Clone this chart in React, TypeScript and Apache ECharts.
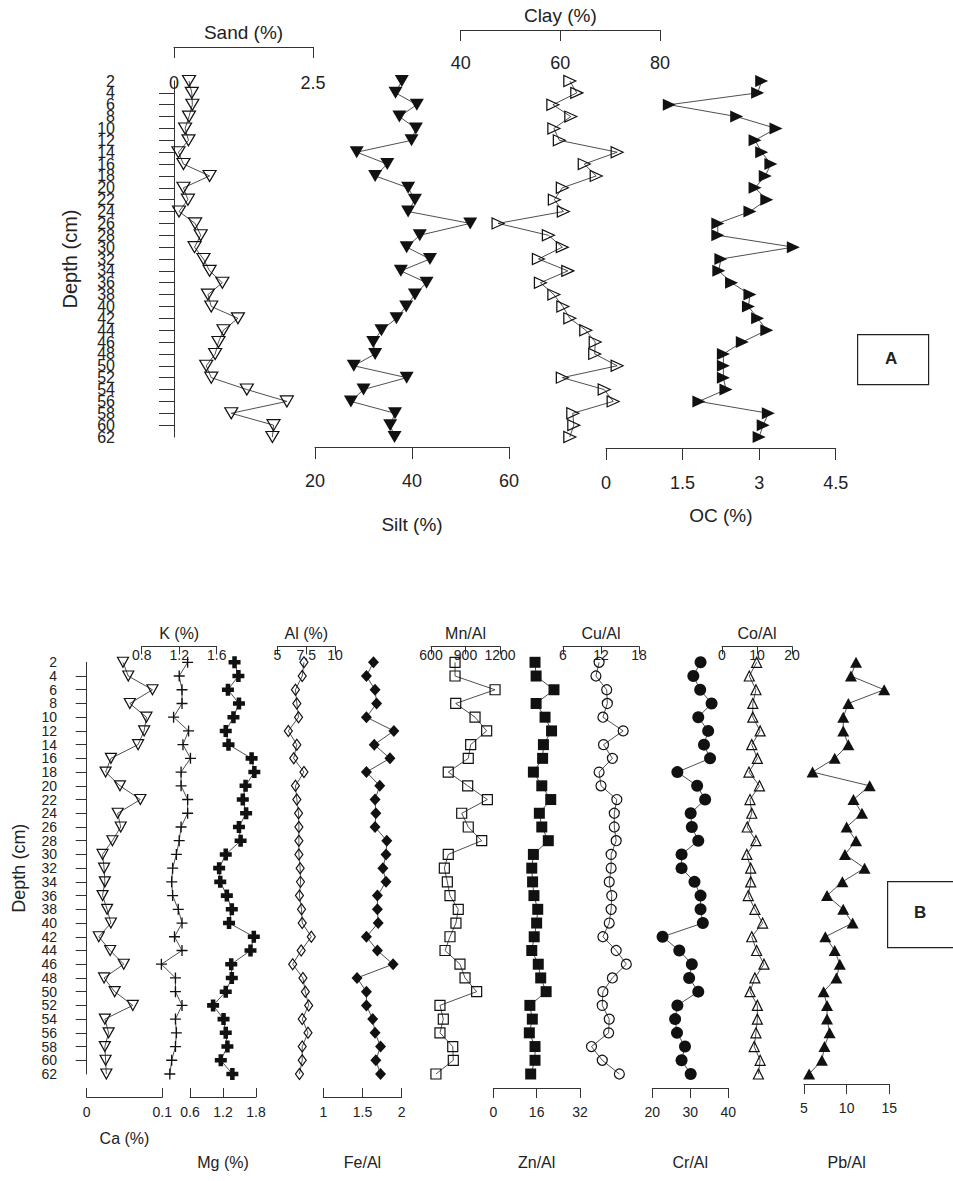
import React, { useEffect, useRef } from "react";
import * as echarts from "echarts";

// Depth (cm) of each sample
const depths = [2, 4, 6, 8, 10, 12, 14, 16, 18, 20, 22, 24, 26, 28, 30, 32, 34, 36, 38, 40, 42, 44, 46, 48, 50, 52, 54, 56, 58, 60, 62];

// Panel A
const sand = [0.27, 0.32, 0.33, 0.27, 0.2, 0.26, 0.08, 0.17, 0.64, 0.17, 0.25, 0.09, 0.38, 0.48, 0.37, 0.53, 0.64, 0.87, 0.61, 0.67, 1.15, 0.89, 0.8, 0.74, 0.58, 0.67, 1.31, 2.03, 1.03, 1.79, 1.77];
const silt = [37.9, 36.6, 41.0, 37.4, 40.8, 39.9, 28.6, 34.9, 32.4, 39.2, 40.6, 39.2, 52.0, 41.6, 38.9, 43.7, 37.7, 43.0, 40.6, 38.8, 36.8, 33.7, 32.0, 32.4, 28.0, 38.9, 30.0, 27.4, 36.5, 35.5, 36.4];
const clay = [61.9, 63.3, 58.5, 62.1, 58.7, 59.8, 71.4, 64.8, 67.2, 60.4, 58.8, 60.6, 47.5, 57.6, 60.4, 55.6, 61.5, 56.0, 58.7, 60.5, 61.9, 65.1, 67.0, 66.9, 71.4, 60.4, 68.8, 70.6, 62.5, 62.7, 61.9];
const oc = [3.05, 2.97, 1.24, 2.56, 3.33, 2.92, 3.05, 3.23, 3.12, 2.92, 3.15, 2.82, 2.19, 2.19, 3.67, 2.25, 2.21, 2.46, 2.82, 2.79, 2.97, 3.15, 2.67, 2.3, 2.3, 2.3, 2.35, 1.82, 3.18, 3.08, 3.0];

// Panel B
const ca = [0.048, 0.055, 0.087, 0.057, 0.079, 0.076, 0.068, 0.032, 0.025, 0.044, 0.071, 0.041, 0.045, 0.034, 0.021, 0.023, 0.024, 0.021, 0.027, 0.032, 0.016, 0.031, 0.049, 0.023, 0.037, 0.061, 0.024, 0.029, 0.024, 0.025, 0.026];
const k = [1.29, 1.2, 1.23, 1.23, 1.14, 1.3, 1.24, 1.32, 1.22, 1.22, 1.29, 1.29, 1.22, 1.2, 1.17, 1.13, 1.12, 1.13, 1.19, 1.23, 1.15, 1.23, 1.01, 1.16, 1.16, 1.23, 1.16, 1.17, 1.16, 1.12, 1.1];
const mg = [1.41, 1.48, 1.29, 1.49, 1.39, 1.25, 1.3, 1.72, 1.77, 1.61, 1.56, 1.62, 1.49, 1.52, 1.25, 1.13, 1.15, 1.27, 1.36, 1.31, 1.76, 1.7, 1.35, 1.36, 1.25, 1.02, 1.21, 1.25, 1.28, 1.16, 1.37];
const al = [7.3, 7.15, 6.56, 6.68, 6.83, 5.94, 6.68, 6.41, 7.3, 6.56, 6.68, 6.83, 6.86, 6.86, 6.86, 6.97, 7.0, 6.91, 7.09, 7.15, 7.94, 7.06, 6.32, 7.21, 7.42, 7.71, 7.15, 7.65, 7.15, 7.15, 6.91];
const fe = [1.64, 1.55, 1.66, 1.68, 1.55, 1.9, 1.65, 1.85, 1.55, 1.72, 1.66, 1.67, 1.66, 1.81, 1.8, 1.76, 1.8, 1.69, 1.69, 1.7, 1.55, 1.69, 1.89, 1.43, 1.55, 1.55, 1.63, 1.66, 1.73, 1.67, 1.73];
const mn = [809, 809, 1157, 815, 983, 1084, 945, 924, 750, 919, 1090, 867, 924, 1041, 750, 716, 742, 765, 837, 817, 765, 722, 852, 896, 997, 678, 707, 678, 789, 794, 643];
const zn = [15.4, 15.8, 22.4, 15.8, 19.1, 21.5, 18.5, 18.2, 14.8, 17.9, 21.2, 17.0, 17.9, 20.3, 14.8, 14.2, 14.5, 15.0, 16.4, 16.0, 15.1, 14.2, 16.6, 17.5, 19.5, 13.5, 14.4, 13.3, 15.4, 15.4, 13.8];
const cu = [11.7, 11.2, 12.9, 13.0, 12.3, 15.5, 12.4, 13.8, 11.7, 12.0, 14.5, 14.1, 14.1, 14.4, 13.6, 13.6, 13.3, 13.7, 13.6, 13.3, 12.3, 14.4, 16.0, 13.8, 12.3, 12.2, 13.3, 13.2, 10.5, 12.2, 14.9];
const cr = [32.7, 30.8, 32.6, 35.6, 32.1, 34.7, 33.6, 35.2, 26.6, 31.8, 33.9, 30.1, 30.4, 32.1, 27.7, 27.7, 31.1, 32.7, 32.7, 33.3, 22.7, 27.1, 30.4, 29.7, 32.1, 26.6, 26.0, 26.5, 28.6, 27.7, 30.1];
const co = [9.9, 7.8, 9.7, 8.8, 8.8, 10.9, 8.5, 10.1, 7.7, 10.7, 8.0, 8.5, 7.2, 9.7, 7.1, 8.2, 8.2, 7.5, 9.4, 11.6, 8.5, 9.9, 12.0, 9.4, 8.0, 10.1, 10.1, 9.7, 9.2, 10.9, 10.4];
const pb = [11.1, 10.5, 14.4, 10.2, 9.6, 9.6, 10.2, 8.6, 6.0, 12.7, 10.8, 11.8, 10.0, 11.1, 9.8, 12.1, 9.5, 7.7, 9.6, 10.7, 7.5, 8.6, 9.2, 8.8, 7.3, 7.7, 7.7, 8.0, 7.4, 7.1, 5.6];

const FONT = "'Liberation Sans', Arial, Helvetica, sans-serif";
const INK = "#222";
const NONE = "rgba(255,255,255,0)";
const PLUS_THIN = "path://M4.4,0H5.6V10H4.4Z M0,4.4H10V5.6H0Z";
const PLUS_BOLD = "path://M3.1,0H6.9V3.1H10V6.9H6.9V10H3.1V6.9H0V3.1H3.1Z";

const PANELS: any = {
  A: { top: 81, height: 356, tickFont: 18, nameFont: 19, depthFont: 16, depthOffset: 29, depthTick: 15, depthMargin: 30, depthName: 20, depthNameGap: 65 },
  B: { top: 662.3, height: 411.7, tickFont: 14, nameFont: 16, depthFont: 14, depthOffset: 12.7, depthTick: 11, depthMargin: 17, depthName: 18, depthNameGap: 46 },
};

type Spec = {
  data: number[]; panel: "A" | "B"; left: number; width: number; min: number; max: number; interval: number;
  pos: "top" | "bottom"; offset: number; tickInside: boolean; tickLen: number; labelInside: boolean; labelMargin: number;
  name: string; nameGap: number; symbol: string; size: any; rotate?: number; fill: string; depth?: boolean;
};

const TOPB = { offset: 16, tickLen: 8, labelMargin: 2, nameGap: 5 };

const specs: Spec[] = [
  { data: sand, panel: "A", left: 174, width: 139, min: 0, max: 2.5, interval: 2.5, pos: "top", offset: 34, tickInside: true, tickLen: 11, labelInside: true, labelMargin: 27, name: "Sand (%)", nameGap: 5, symbol: "triangle", size: [13, 11], rotate: 180, fill: NONE, depth: true },
  { data: silt, panel: "A", left: 315, width: 194, min: 20, max: 60, interval: 20, pos: "bottom", offset: 10, tickInside: false, tickLen: 12, labelInside: false, labelMargin: 25, name: "Silt (%)", nameGap: 68, symbol: "triangle", size: [14, 12], rotate: 180, fill: "#111" },
  { data: clay, panel: "A", left: 460.7, width: 199.3, min: 40, max: 80, interval: 20, pos: "top", offset: 51, tickInside: true, tickLen: 11, labelInside: true, labelMargin: 24, name: "Clay (%)", nameGap: 5, symbol: "triangle", size: [11, 12], rotate: -90, fill: NONE },
  { data: oc, panel: "A", left: 606, width: 229.7, min: 0, max: 4.5, interval: 1.5, pos: "bottom", offset: 11, tickInside: false, tickLen: 12, labelInside: false, labelMargin: 26, name: "OC (%)", nameGap: 58, symbol: "triangle", size: [12, 13], rotate: -90, fill: "#111" },

  { data: ca, panel: "B", left: 86.7, width: 75.6, min: 0, max: 0.1, interval: 0.1, pos: "bottom", offset: 23, tickInside: true, tickLen: 9, labelInside: false, labelMargin: 8, name: "Ca (%)", nameGap: 33, symbol: "triangle", size: [11, 10], rotate: 180, fill: NONE, depth: true },
  { data: k, panel: "B", left: 141.7, width: 75, min: 0.8, max: 1.6, interval: 0.4, pos: "top", offset: TOPB.offset, tickInside: true, tickLen: TOPB.tickLen, labelInside: true, labelMargin: TOPB.labelMargin, name: "K (%)", nameGap: TOPB.nameGap, symbol: PLUS_THIN, size: 11, fill: "#111" },
  { data: mg, panel: "B", left: 190, width: 66, min: 0.6, max: 1.8, interval: 0.6, pos: "bottom", offset: 23, tickInside: true, tickLen: 9, labelInside: false, labelMargin: 8, name: "Mg (%)", nameGap: 57, symbol: PLUS_BOLD, size: 12, fill: "#111" },
  { data: al, panel: "B", left: 277.5, width: 57.5, min: 5, max: 10, interval: 2.5, pos: "top", offset: TOPB.offset, tickInside: true, tickLen: TOPB.tickLen, labelInside: true, labelMargin: TOPB.labelMargin, name: "Al (%)", nameGap: TOPB.nameGap, symbol: "diamond", size: [8, 11], fill: NONE },
  { data: fe, panel: "B", left: 323.3, width: 78.4, min: 1, max: 2, interval: 0.5, pos: "bottom", offset: 23, tickInside: true, tickLen: 9, labelInside: false, labelMargin: 8, name: "Fe/Al", nameGap: 57, symbol: "diamond", size: [11, 12], fill: "#111" },
  { data: mn, panel: "B", left: 431, width: 69, min: 600, max: 1200, interval: 300, pos: "top", offset: TOPB.offset, tickInside: true, tickLen: TOPB.tickLen, labelInside: true, labelMargin: TOPB.labelMargin, name: "Mn/Al", nameGap: TOPB.nameGap, symbol: "rect", size: 10, fill: NONE },
  { data: zn, panel: "B", left: 493.3, width: 86.7, min: 0, max: 32, interval: 16, pos: "bottom", offset: 14, tickInside: false, tickLen: 10, labelInside: false, labelMargin: 17, name: "Zn/Al", nameGap: 66, symbol: "rect", size: 11, fill: "#111" },
  { data: cu, panel: "B", left: 563, width: 76, min: 6, max: 18, interval: 6, pos: "top", offset: TOPB.offset, tickInside: true, tickLen: TOPB.tickLen, labelInside: true, labelMargin: TOPB.labelMargin, name: "Cu/Al", nameGap: TOPB.nameGap, symbol: "circle", size: 10, fill: NONE },
  { data: cr, panel: "B", left: 652.3, width: 76, min: 20, max: 40, interval: 10, pos: "bottom", offset: 14, tickInside: false, tickLen: 10, labelInside: false, labelMargin: 17, name: "Cr/Al", nameGap: 66, symbol: "circle", size: 12, fill: "#111" },
  { data: co, panel: "B", left: 722, width: 70, min: 0, max: 20, interval: 10, pos: "top", offset: TOPB.offset, tickInside: true, tickLen: TOPB.tickLen, labelInside: true, labelMargin: TOPB.labelMargin, name: "Co/Al", nameGap: TOPB.nameGap, symbol: "triangle", size: [10, 10], fill: NONE },
  { data: pb, panel: "B", left: 804, width: 85.3, min: 5, max: 15, interval: 5, pos: "bottom", offset: 10, tickInside: false, tickLen: 10, labelInside: false, labelMargin: 17, name: "Pb/Al", nameGap: 70, symbol: "triangle", size: [12, 11], fill: "#111" },
];

const plain = (v: number) => String(Math.round(v * 1000) / 1000);

function buildOption() {
  const grid: any[] = [];
  const xAxis: any[] = [];
  const yAxis: any[] = [];
  const extraY: any[] = [];
  const series: any[] = [];
  specs.forEach((s, i) => {
    const P = PANELS[s.panel];
    grid.push({ left: s.left, width: s.width, top: P.top, height: P.height, containLabel: false });
    xAxis.push({
      gridIndex: i, type: "value", min: s.min, max: s.max, interval: s.interval, position: s.pos, offset: s.offset,
      axisLine: { show: true, onZero: false, lineStyle: { color: "#333", width: 1 } },
      axisTick: { show: true, inside: s.tickInside, length: s.tickLen, lineStyle: { color: "#333", width: 1 } },
      axisLabel: { show: true, inside: s.labelInside, margin: s.labelMargin, color: INK, fontSize: P.tickFont, fontFamily: FONT, showMinLabel: true, showMaxLabel: true, formatter: plain },
      splitLine: { show: false },
      name: s.name, nameLocation: "middle", nameGap: s.nameGap,
      nameTextStyle: { color: INK, fontSize: P.nameFont, fontFamily: FONT },
    });
    const depthBase = {
      gridIndex: i, type: "value", min: 2, max: 62, interval: 2, inverse: true, position: "left", offset: P.depthOffset,
      splitLine: { show: false },
    };
    // Main depth axis: line, ticks, inner labels (4..60)
    yAxis.push({
      ...depthBase,
      show: !!s.depth,
      axisLine: { show: true, lineStyle: { color: "#333", width: 1 } },
      axisTick: { show: true, length: P.depthTick, lineStyle: { color: "#333", width: 1 } },
      axisLabel: { show: true, margin: P.depthMargin, color: INK, fontSize: P.depthFont, fontFamily: FONT, showMinLabel: false, showMaxLabel: false, hideOverlap: false, formatter: plain },
      name: "Depth (cm)", nameLocation: "middle", nameGap: P.depthNameGap,
      nameTextStyle: { color: INK, fontSize: P.depthName, fontFamily: FONT },
    });
    if (s.depth) {
      // End labels (2 and 62), which the main axis would drop as overlapping
      extraY.push({
        ...depthBase,
        show: true,
        axisLine: { show: false },
        axisTick: { show: false },
        axisLabel: {
          show: true, margin: P.depthMargin, color: INK, fontSize: P.depthFont, fontFamily: FONT, showMinLabel: true, showMaxLabel: true, hideOverlap: false,
          formatter: (v: number) => (v === 2 || v === 62 ? String(v) : ""),
        },
      });
    }
    series.push({
      type: "line", xAxisIndex: i, yAxisIndex: i, name: s.name,
      data: s.data.map((v, j) => [v, depths[j]]),
      symbol: s.symbol, symbolSize: s.size, symbolRotate: s.rotate || 0, showSymbol: true, showAllSymbol: true,
      clip: false, silent: true,
      lineStyle: { color: "#222", width: 0.8 },
      itemStyle: { color: s.fill, borderColor: "#111", borderWidth: s.fill === NONE ? 1.2 : 0 },
    });
  });
  return {
    animation: false,
    backgroundColor: "#fff",
    textStyle: { fontFamily: FONT },
    grid, xAxis, yAxis: [...yAxis, ...extraY], series,
    graphic: [
      { type: "rect", left: 857, top: 334, shape: { width: 71, height: 50 }, style: { fill: "#fff", stroke: "#222", lineWidth: 1.2 } },
      { type: "text", left: 885, top: 350, style: { text: "A", fontSize: 17, fontWeight: "bold", fontFamily: FONT, fill: "#222" } },
      { type: "rect", left: 887, top: 881, shape: { width: 80, height: 66 }, style: { fill: "#fff", stroke: "#222", lineWidth: 1.2 } },
      { type: "text", left: 914, top: 904, style: { text: "B", fontSize: 17, fontWeight: "bold", fontFamily: FONT, fill: "#222" } },
    ],
  };
}

export default function App() {
  const ref = useRef<HTMLDivElement>(null);
  useEffect(() => {
    if (!ref.current) return;
    const chart = echarts.init(ref.current, undefined, { renderer: "svg" });
    chart.setOption(buildOption());
    return () => chart.dispose();
  }, []);
  return <div ref={ref} style={{ position: "absolute", left: 0, top: 0, width: 953, height: 1181, background: "#fff" }} />;
}
